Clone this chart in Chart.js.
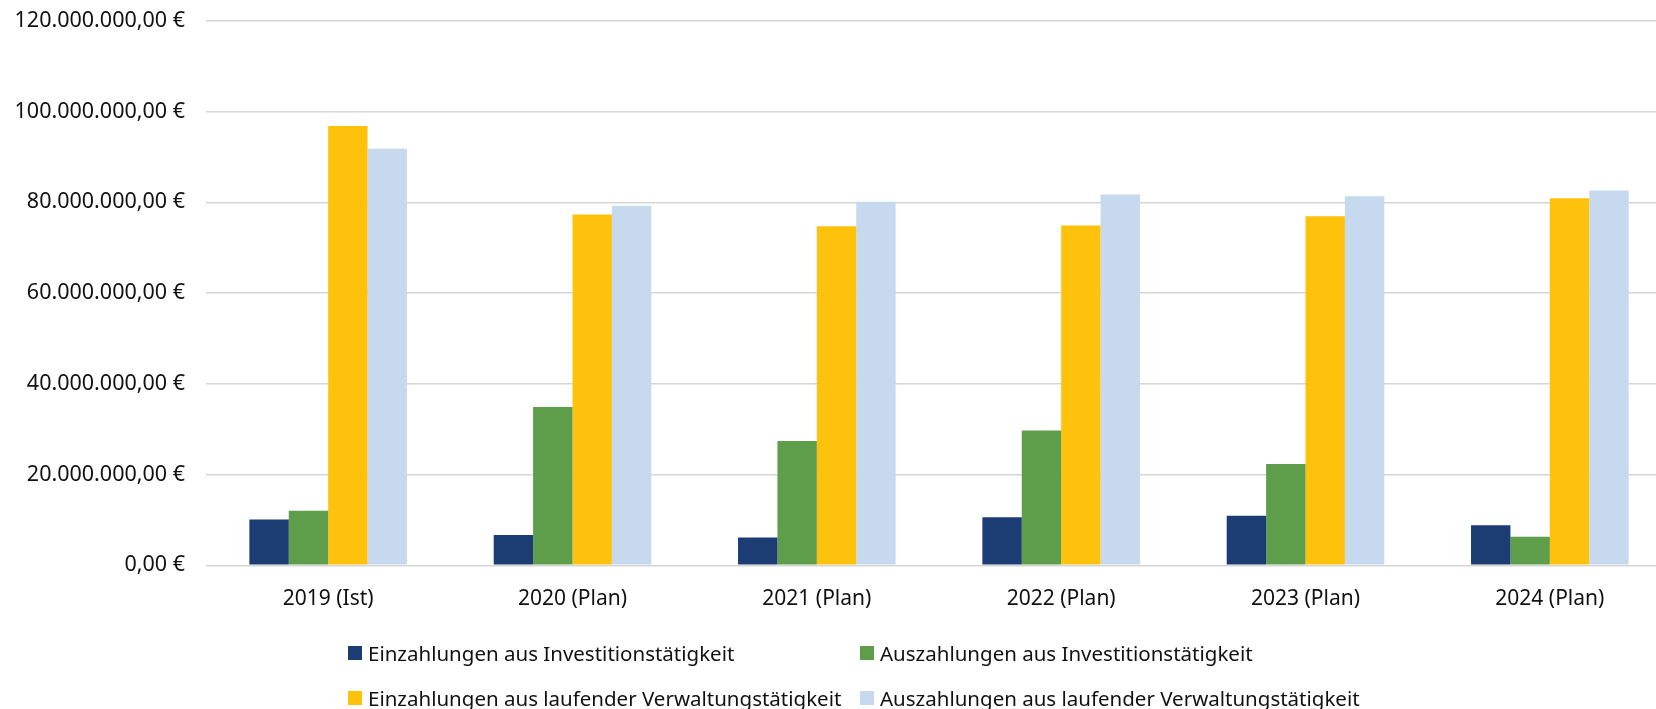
<!DOCTYPE html>
<html lang="de">
<head>
    <meta charset="UTF-8">
    <title>Ein- und Auszahlungen 2019-2024</title>
    <script src="https://cdn.jsdelivr.net/npm/chart.js"></script>
    <style>
        body {
            margin: 0;
            background: #fff;
            overflow: hidden;
            font-family: "Noto Sans", sans-serif;
        }

        .wrap {
            position: relative;
            width: 1672px;
            height: 709px;
        }

        /* legend in two columns, like the original */
        .legend-item {
            position: absolute;
            display: flex;
            align-items: center;
            height: 30px;
            font-size: 20.5px;
            color: #111;
            white-space: nowrap;
        }

        .legend-item span.box {
            width: 14px;
            height: 14px;
            margin-right: 6px;
        }
    </style>
</head>
<body>
    <div class="wrap">
        <canvas id="chart" width="1672" height="709"></canvas>
        <div id="legend"></div>
    </div>

    <script>
        const years = ['2019 (Ist)', '2020 (Plan)', '2021 (Plan)', '2022 (Plan)', '2023 (Plan)', '2024 (Plan)'];

        const seriesNames = [
            'Einzahlungen aus Investitionstätigkeit',
            'Auszahlungen aus Investitionstätigkeit',
            'Einzahlungen aus laufender Verwaltungstätigkeit',
            'Auszahlungen aus laufender Verwaltungstätigkeit'
        ];

        // values in euro
        const einInvest = [10100000, 6700000, 6100000, 10600000, 10900000, 8800000];
        const ausInvest = [12000000, 34900000, 27400000, 29700000, 22300000, 6300000];
        const einLaufend = [96800000, 77300000, 74700000, 74900000, 76900000, 80900000];
        const ausLaufend = [91800000, 79200000, 80100000, 81700000, 81300000, 82600000];

        const yTicksMax = 120000000;
        const yTicksStep = 20000000;

        const seriesColors = ['#1C3C74', '#5E9E4A', '#FEC20C', '#C7D9EF'];

        // 120000000 -> "120.000.000,00 €"
        function euro(v) {
            const whole = Math.round(v).toString().replace(/\B(?=(\d{3})+(?!\d))/g, '.');
            return whole + ',00 €';
        }

        const allValues = [einInvest, ausInvest, einLaufend, ausLaufend];

        const ctx = document.getElementById('chart').getContext('2d');
        new Chart(ctx, {
            type: 'bar',
            data: {
                labels: years,
                datasets: allValues.map((vals, i) => ({
                    label: seriesNames[i],
                    data: vals,
                    backgroundColor: seriesColors[i],
                    borderWidth: 0,
                    categoryPercentage: 0.645,
                    barPercentage: 1
                }))
            },
            options: {
                responsive: false,
                animation: false,
                layout: { padding: { top: 20.7, left: 0, right: 0, bottom: 0 } },
                plugins: {
                    legend: { display: false },
                    tooltip: { enabled: false }
                },
                scales: {
                    x: {
                        grid: { display: false, drawTicks: false },
                        border: { display: false },
                        ticks: {
                            color: '#111',
                            padding: 21,
                            font: { family: 'Noto Sans', size: 21 }
                        },
                        afterFit: function (scale) { scale.height = 143.7; }
                    },
                    y: {
                        min: 0,
                        max: yTicksMax,
                        grid: { color: '#d6d6d6', lineWidth: 1.4, drawTicks: false },
                        border: { display: false },
                        ticks: {
                            stepSize: yTicksStep,
                            padding: 21,
                            color: '#111',
                            font: { family: 'Noto Sans', size: 21.5 },
                            callback: function (v) { return euro(v); }
                        },
                        afterFit: function (scale) {
                            scale.width = 206;
                            // tick padding should not push the plot down
                            scale.paddingTop = 0;
                            scale.paddingBottom = 0;
                        }
                    }
                }
            }
        });

        // legend: two rows, two columns
        const legendPos = [
            { left: 348, top: 638 },
            { left: 860, top: 638 },
            { left: 348, top: 683 },
            { left: 860, top: 683 }
        ];
        const legend = document.getElementById('legend');
        seriesNames.forEach((name, i) => {
            const item = document.createElement('div');
            item.className = 'legend-item';
            item.style.left = legendPos[i].left + 'px';
            item.style.top = legendPos[i].top + 'px';
            const box = document.createElement('span');
            box.className = 'box';
            box.style.background = seriesColors[i];
            const txt = document.createElement('span');
            txt.textContent = name;
            item.appendChild(box);
            item.appendChild(txt);
            legend.appendChild(item);
        });
    </script>
</body>
</html>
